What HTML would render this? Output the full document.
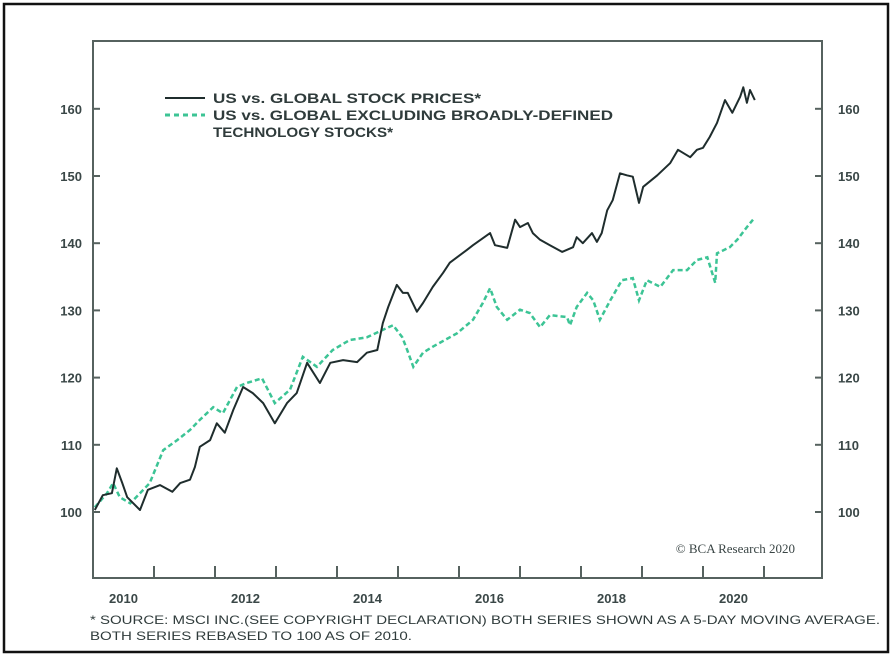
<!DOCTYPE html>
<html><head><meta charset="utf-8"><style>
body{margin:0;background:#fff;}
svg{display:block;font-family:"Liberation Sans",sans-serif;}
</style></head><body>
<svg id="chart" width="894" height="658" viewBox="0 0 894 658">
<rect x="4" y="4" width="884" height="648" fill="#fff" stroke="#111" stroke-width="2.5"/>
<rect x="93" y="41" width="729" height="537" fill="none" stroke="#56625f" stroke-width="2"/>
<g id="axes"></g>
<g id="series"></g>
<g font-weight="bold" font-size="14" fill="#2f3b3b">
<line x1="165" y1="98" x2="205" y2="98" stroke="#1f2d2d" stroke-width="2"/>
<line x1="165" y1="115" x2="205" y2="115" stroke="#3cc495" stroke-width="3" stroke-dasharray="5,4"/>
<text x="213" y="103" textLength="268" lengthAdjust="spacingAndGlyphs">US vs. GLOBAL STOCK PRICES*</text>
<text x="213" y="120" textLength="400" lengthAdjust="spacingAndGlyphs">US vs. GLOBAL EXCLUDING BROADLY-DEFINED</text>
<text x="213" y="137" textLength="180" lengthAdjust="spacingAndGlyphs">TECHNOLOGY STOCKS*</text>
</g>
<text x="795" y="553" text-anchor="end" font-family="'Liberation Serif',serif" font-size="13" fill="#3a4545">© BCA Research 2020</text>
<text x="90" y="624" font-size="12" fill="#2f3b3b" textLength="790" lengthAdjust="spacingAndGlyphs">* SOURCE: MSCI INC.(SEE COPYRIGHT DECLARATION) BOTH SERIES SHOWN AS A 5-DAY MOVING AVERAGE.</text>
<text x="90" y="640" font-size="12" fill="#2f3b3b" textLength="322" lengthAdjust="spacingAndGlyphs">BOTH SERIES REBASED TO 100 AS OF 2010.</text>
</svg>
<script>
const yTicks=[100,110,120,130,140,150,160];
const xYearTicks=[2011,2012,2013,2014,2015,2016,2017,2018,2019,2020,2021];
const xLabels=[2010,2012,2014,2016,2018,2020];
const usDates=[2010.03,2010.16,2010.31,2010.39,2010.48,2010.56,2010.77,2010.90,2011.10,2011.30,2011.43,2011.59,2011.67,2011.75,2011.92,2012.03,2012.16,2012.30,2012.46,2012.62,2012.79,2012.98,2013.18,2013.34,2013.51,2013.72,2013.89,2014.10,2014.33,2014.49,2014.66,2014.75,2014.84,2014.98,2015.08,2015.16,2015.31,2015.41,2015.57,2015.74,2015.85,2016.13,2016.23,2016.51,2016.59,2016.79,2016.92,2017.00,2017.13,2017.21,2017.33,2017.49,2017.69,2017.87,2017.93,2018.03,2018.18,2018.26,2018.34,2018.43,2018.52,2018.64,2018.75,2018.85,2018.95,2019.02,2019.25,2019.46,2019.59,2019.79,2019.90,2020.00,2020.11,2020.23,2020.36,2020.48,2020.61,2020.66,2020.72,2020.77,2020.85];
const usValues=[100.3,102.5,102.8,106.5,104.3,102.2,100.3,103.3,104.0,103.0,104.3,104.8,106.7,109.7,110.7,113.2,111.8,115.2,118.6,117.7,116.2,113.2,116.2,117.7,122.2,119.2,122.2,122.6,122.3,123.7,124.1,128.1,130.5,133.8,132.6,132.6,129.8,131.1,133.5,135.6,137.1,139.0,139.7,141.5,139.7,139.3,143.5,142.4,143.0,141.5,140.5,139.7,138.7,139.4,140.9,140.0,141.5,140.2,141.5,144.9,146.4,150.4,150.1,149.9,146.0,148.4,150.1,151.9,153.9,152.8,153.9,154.2,155.8,157.9,161.3,159.4,161.8,163.2,160.9,162.8,161.3];
const exDates=[2010.03,2010.23,2010.33,2010.44,2010.61,2010.77,2010.93,2011.15,2011.38,2011.59,2011.75,2011.97,2012.13,2012.36,2012.52,2012.77,2012.98,2013.23,2013.44,2013.67,2013.93,2014.21,2014.49,2014.75,2014.92,2015.07,2015.15,2015.25,2015.41,2015.57,2015.85,2015.97,2016.23,2016.39,2016.51,2016.62,2016.79,2017.00,2017.16,2017.33,2017.49,2017.77,2017.82,2017.93,2018.10,2018.20,2018.31,2018.48,2018.67,2018.85,2018.95,2019.08,2019.30,2019.51,2019.74,2019.90,2020.07,2020.20,2020.23,2020.44,2020.56,2020.72,2020.82];
const exValues=[100.7,102.8,104.3,102.2,101.3,102.8,104.3,109.2,110.7,112.2,113.7,115.6,114.7,118.6,119.2,119.9,116.2,118.2,123.1,121.6,124.1,125.6,126.0,127.1,127.8,126.0,124.1,121.6,123.7,124.6,126.0,126.6,128.6,131.1,133.3,130.5,128.6,130.1,129.6,127.5,129.3,129.0,127.8,130.5,132.6,131.5,128.6,131.5,134.5,134.8,131.5,134.5,133.5,136.0,136.0,137.5,137.9,134.1,138.5,139.4,140.5,142.4,143.5];

const X=t=>93+(t-2010)*61;
const Y=v=>512-(v-100)*6.72;
const NS='http://www.w3.org/2000/svg';
function mk(tag,attrs,parent){const e=document.createElementNS(NS,tag);for(const k in attrs)e.setAttribute(k,attrs[k]);parent.appendChild(e);return e;}
const axes=document.getElementById('axes');
yTicks.forEach(v=>{
  const t1=mk('line',{x1:93,x2:100,y1:Y(v),y2:Y(v),stroke:'#56625f','stroke-width':2},axes);
  
  
  const t2=mk('line',{x1:815,x2:822,y1:Y(v),y2:Y(v),stroke:'#56625f','stroke-width':2},axes);
  
  
  const l=mk('text',{x:82,y:Y(v)+5,'text-anchor':'end','font-size':13,'font-weight':'bold',fill:'#3a4747'},axes);
  l.textContent=v;
  
  
  const r=mk('text',{x:838,y:Y(v)+5,'font-size':13,'font-weight':'bold',fill:'#3a4747'},axes);
  r.textContent=v;
  
  
});
xYearTicks.forEach(t=>{
  const e=mk('line',{x1:X(t),x2:X(t),y1:566,y2:578,stroke:'#56625f','stroke-width':2},axes);
  
  
});
xLabels.forEach(t=>{
  const e=mk('text',{x:X(t+0.5),y:603,'text-anchor':'middle','font-size':13,'font-weight':'bold',fill:'#3a4747'},axes);
  e.textContent=t;
  
  
});
const ser=document.getElementById('series');
function path(d,v){return d.map((t,i)=>(i?'L':'M')+X(t).toFixed(1)+','+Y(v[i]).toFixed(1)).join(' ');}
const g=mk('path',{d:path(exDates,exValues),fill:'none',stroke:'#3cc495','stroke-width':2.5,'stroke-dasharray':'5,3'},ser);


const b=mk('path',{d:path(usDates,usValues),fill:'none',stroke:'#1f2d2d','stroke-width':2,'stroke-linejoin':'round'},ser);


</script>
</body></html>
